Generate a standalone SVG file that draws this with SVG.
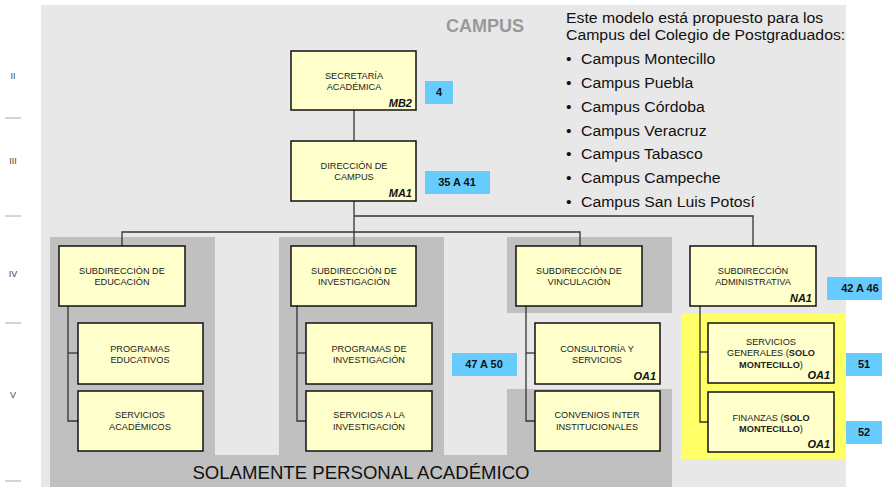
<svg xmlns="http://www.w3.org/2000/svg" width="882" height="487" viewBox="0 0 882 487">
<style>
.bg{fill:#e8e8e8}
.zone{fill:#c0c0c0}
.hl{fill:#ffff66}
.node{fill:#ffffcc;stroke:#111;stroke-width:1.5}
.badge{fill:#66ccff}
.t{font-family:"Liberation Sans",Arial,sans-serif;font-size:9.2px;fill:#222;text-anchor:middle}
.code{font-family:"Liberation Sans",Arial,sans-serif;font-size:11px;font-weight:bold;font-style:italic;fill:#111;text-anchor:end}
.bt{font-family:"Liberation Sans",Arial,sans-serif;font-size:11px;font-weight:bold;fill:#111;text-anchor:middle}
.lvl{font-family:"Liberation Sans",Arial,sans-serif;font-size:9px;fill:#444;text-anchor:middle}
.side{font-family:"Liberation Sans",Arial,sans-serif;font-size:14.5px;fill:#111}
.conn line,.conn polyline{stroke:#333;stroke-width:1.3;fill:none}
</style>
<rect width="882" height="487" fill="#fff"/>
<rect class="bg" x="41" y="5" width="805" height="482"/>
<g id="zones">
<rect class="zone" x="50" y="237" width="165" height="250"/>
<rect class="zone" x="279" y="237" width="165" height="250"/>
<rect class="zone" x="507" y="237" width="165" height="76"/>
<rect class="zone" x="507" y="389" width="165" height="98"/>
<rect class="zone" x="50" y="455" width="622" height="32"/>
<rect class="hl" x="681" y="313" width="165" height="146"/>
</g>
<g id="levels">
<text class="lvl" x="13" y="79">II</text>
<line x1="5" y1="118" x2="21" y2="118" stroke="#aaa" stroke-width="1"/>
<text class="lvl" x="13" y="164">III</text>
<line x1="5" y1="216" x2="21" y2="216" stroke="#aaa" stroke-width="1"/>
<text class="lvl" x="13" y="277">IV</text>
<line x1="5" y1="323" x2="21" y2="323" stroke="#aaa" stroke-width="1"/>
<text class="lvl" x="13" y="398">V</text>
<line x1="5" y1="481" x2="21" y2="481" stroke="#aaa" stroke-width="1"/>
</g>
<text x="485" y="32" font-family="Liberation Sans,Arial,sans-serif" font-size="18" font-weight="bold" fill="#999" text-anchor="middle">CAMPUS</text>
<g id="note" transform="translate(566,0) scale(1.09,1) translate(-566,0)">
<text class="side" x="566" y="23">Este modelo está propuesto para los</text>
<text class="side" x="566" y="40">Campus del Colegio de Postgraduados:</text>
<text class="side" x="566" y="64">•</text><text class="side" x="579.8" y="64">Campus Montecillo</text>
<text class="side" x="566" y="88">•</text><text class="side" x="579.8" y="88">Campus Puebla</text>
<text class="side" x="566" y="112">•</text><text class="side" x="579.8" y="112">Campus Córdoba</text>
<text class="side" x="566" y="136">•</text><text class="side" x="579.8" y="136">Campus Veracruz</text>
<text class="side" x="566" y="159">•</text><text class="side" x="579.8" y="159">Campus Tabasco</text>
<text class="side" x="566" y="183">•</text><text class="side" x="579.8" y="183">Campus Campeche</text>
<text class="side" x="566" y="207">•</text><text class="side" x="579.8" y="207">Campus San Luis Potosí</text>
</g>
<g class="conn" id="connectors">
<line x1="354" y1="110" x2="354" y2="141"/>
<line x1="354" y1="201" x2="354" y2="246"/>
<polyline points="354,216 753,216 753,246"/>
<polyline points="122,246 122,232 580,232 580,246"/>
<polyline points="68,306 68,421 78,421"/><line x1="68" y1="353" x2="78" y2="353"/>
<polyline points="297,306 297,421 306,421"/><line x1="297" y1="353" x2="306" y2="353"/>
<polyline points="526,306 526,421 535,421"/><line x1="526" y1="353" x2="535" y2="353"/>
<polyline points="700,306 700,422 708,422"/><line x1="700" y1="352" x2="708" y2="352"/>
</g>
<g id="secretaria"><rect class="node" x="291" y="51" width="125" height="59"/><text class="t" x="354" y="79">SECRETARÍA</text><text class="t" x="354" y="90">ACADÉMICA</text><text class="code" x="412" y="107">MB2</text></g>
<g id="direccion"><rect class="node" x="291" y="141" width="125" height="60"/><text class="t" x="354" y="169">DIRECCIÓN DE</text><text class="t" x="354" y="180">CAMPUS</text><text class="code" x="412" y="197">MA1</text></g>
<g id="sub-educacion"><rect class="node" x="59" y="246" width="126" height="60"/><text class="t" x="122" y="274">SUBDIRECCIÓN DE</text><text class="t" x="122" y="285">EDUCACIÓN</text></g>
<g id="sub-investigacion"><rect class="node" x="291" y="246" width="125" height="60"/><text class="t" x="354" y="274">SUBDIRECCIÓN DE</text><text class="t" x="354" y="285">INVESTIGACIÓN</text></g>
<g id="sub-vinculacion"><rect class="node" x="516" y="246" width="126" height="60"/><text class="t" x="579" y="274">SUBDIRECCIÓN DE</text><text class="t" x="579" y="285">VINCULACIÓN</text></g>
<g id="sub-administrativa"><rect class="node" x="690" y="246" width="126" height="60"/><text class="t" x="753" y="274">SUBDIRECCIÓN</text><text class="t" x="753" y="285">ADMINISTRATIVA</text><text class="code" x="812" y="302">NA1</text></g>
<g id="programas-educativos"><rect class="node" x="78" y="323" width="125" height="61"/><text class="t" x="140" y="352">PROGRAMAS</text><text class="t" x="140" y="363">EDUCATIVOS</text></g>
<g id="servicios-academicos"><rect class="node" x="78" y="391" width="125" height="60"/><text class="t" x="140" y="418">SERVICIOS</text><text class="t" x="140" y="430">ACADÉMICOS</text></g>
<g id="programas-investigacion"><rect class="node" x="306" y="323" width="126" height="61"/><text class="t" x="369" y="352">PROGRAMAS DE</text><text class="t" x="369" y="363">INVESTIGACIÓN</text></g>
<g id="servicios-investigacion"><rect class="node" x="306" y="391" width="126" height="60"/><text class="t" x="369" y="418">SERVICIOS A LA</text><text class="t" x="369" y="430">INVESTIGACIÓN</text></g>
<g id="consultoria"><rect class="node" x="535" y="323" width="125" height="61"/><text class="t" x="597" y="352">CONSULTORÍA Y</text><text class="t" x="597" y="363">SERVICIOS</text><text class="code" x="656" y="380">OA1</text></g>
<g id="convenios"><rect class="node" x="535" y="391" width="125" height="60"/><text class="t" x="597" y="418">CONVENIOS INTER</text><text class="t" x="597" y="430">INSTITUCIONALES</text></g>
<g id="servicios-generales"><rect class="node" x="708" y="323" width="126" height="60"/><text class="t" x="771" y="345">SERVICIOS</text><text class="t" x="771" y="356">GENERALES (<tspan font-weight="bold">SOLO</tspan></text><text class="t" x="771" y="368"><tspan font-weight="bold">MONTECILLO</tspan>)</text><text class="code" x="830" y="379">OA1</text></g>
<g id="finanzas"><rect class="node" x="708" y="392" width="126" height="60"/><text class="t" x="771" y="421">FINANZAS (<tspan font-weight="bold">SOLO</tspan></text><text class="t" x="771" y="432"><tspan font-weight="bold">MONTECILLO</tspan>)</text><text class="code" x="830" y="448">OA1</text></g>
<g id="badges">
<rect class="badge" x="425" y="81" width="28" height="23"/><text class="bt" x="439" y="96">4</text>
<rect class="badge" x="425" y="171" width="65" height="23"/><text class="bt" x="457" y="186">35 A 41</text>
<rect class="badge" x="827" y="277" width="55" height="23"/><text class="bt" x="860" y="292">42 A 46</text>
<rect class="badge" x="452" y="353" width="65" height="23"/><text class="bt" x="484" y="368">47 A 50</text>
<rect class="badge" x="846" y="353" width="36" height="23"/><text class="bt" x="864" y="368">51</text>
<rect class="badge" x="846" y="421" width="36" height="23"/><text class="bt" x="864" y="436">52</text>
</g>
<text x="361" y="479" font-family="Liberation Sans,Arial,sans-serif" font-size="18.6" fill="#111" text-anchor="middle">SOLAMENTE PERSONAL ACADÉMICO</text>
</svg>
